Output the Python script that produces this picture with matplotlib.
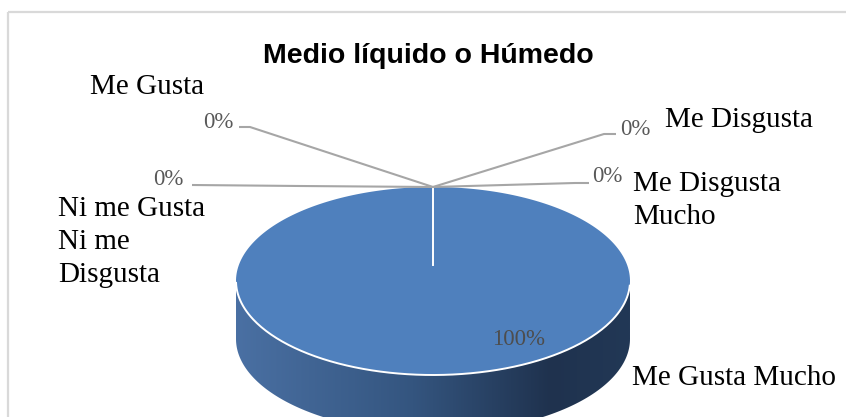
import numpy as np
import matplotlib
matplotlib.use("Agg")
import matplotlib.pyplot as plt
from matplotlib.patches import Polygon, Rectangle
from matplotlib.colors import LinearSegmentedColormap

# ---- data ----
title = "Medio líquido o Húmedo"
categories = ["Me Gusta Mucho", "Me Gusta", "Ni me Gusta\nNi me\nDisgusta",
              "Me Disgusta", "Me Disgusta\nMucho"]
values = [100, 0, 0, 0, 0]

# ---- layout (pixel coordinates) ----
W, H = 846, 417
cx, cy, rx, ry, depth = 433, 281, 197, 94, 58

fig = plt.figure(figsize=(W / 100, H / 100), dpi=100)
ax = fig.add_axes([0, 0, 1, 1])
ax.set_xlim(0, W)
ax.set_ylim(H, 0)
ax.axis("off")

# chart frame (cut off on right and bottom)
ax.add_patch(Rectangle((7.5, 12), 900, 500, fill=False, edgecolor="#D9D9D9",
                       lw=1.6, zorder=0))

total = float(sum(values))
fracs = [v / total for v in values]

# angle a measured clockwise from 12 o'clock
def pt(a, dy=0.0):
    return cx + rx * np.sin(a), cy - ry * np.cos(a) + dy

# ---- side (front wall) with gradient ----
t = np.linspace(np.pi / 2, 3 * np.pi / 2, 200)  # right -> bottom -> left
top_arc = np.array([pt(a) for a in t])
bot_arc = np.array([pt(a, depth) for a in t[::-1]])
side = np.vstack([top_arc, bot_arc])
side_poly = Polygon(side, closed=True, facecolor="none", edgecolor="none")
ax.add_patch(side_poly)
cmap = LinearSegmentedColormap.from_list(
    "side", [(0, "#4A70A3"), (0.45, "#34557F"), (0.8, "#1F324E"), (1.0, "#223856")])
grad = np.linspace(0, 1, 256).reshape(1, -1)
im = ax.imshow(grad, cmap=cmap, extent=(cx - rx, cx + rx, cy + ry + depth + 5, cy - 5),
               aspect="auto", zorder=1)
im.set_clip_path(side_poly)

# ---- top face slices ----
start = 0.0
boundaries = []
for f in fracs:
    if f > 0:
        aa = np.linspace(start, start + 2 * np.pi * f, 300)
        pts = [pt(a) for a in aa]
        if f < 1:
            pts = [(cx, cy)] + pts
        ax.add_patch(Polygon(pts, closed=True, facecolor="#4F80BD",
                             edgecolor="none", zorder=2))
        boundaries.append(start)
    start += 2 * np.pi * f

# white front rim highlight
rim = np.array([pt(a) for a in np.linspace(np.pi / 2 + 0.05, 3 * np.pi / 2 - 0.02, 200)])
ax.plot(rim[:, 0], rim[:, 1], color="white", lw=1.4, zorder=3)

# slice boundary line (white)
for b in boundaries:
    x0, y0 = pt(b)
    ax.plot([x0, cx], [y0 + 1, cy - 16], color="white", lw=1.4, zorder=3)

# ---- labels ----
serif = "Liberation Serif"
pct = [f"{f * 100:.0f}%" for f in fracs]
top_x, top_y = pt(0.0)

# leader lines for the 0% slices: (elbow, end)
leaders = {
    1: [(250, 127), (239, 127)],
    2: [(300, 186), (192, 185)],
    3: [(604, 134), (616, 134)],
    4: [(575, 183), (589, 183)],
}
for i, seg in leaders.items():
    xs = [top_x] + [p[0] for p in seg]
    ys = [top_y] + [p[1] for p in seg]
    ax.plot(xs, ys, color="#A6A6A6", lw=1.5, zorder=4, solid_capstyle="butt")

pct_pos = {0: (492, 345, "left"), 1: (233, 128, "right"), 2: (184, 185, "right"),
           3: (620, 135, "left"), 4: (592, 182, "left")}
# (x, baseline of the last line)
cat_pos = {0: (632, 385), 1: (90, 94), 2: (58, 282), 3: (665, 127), 4: (633, 224)}

for i in range(len(categories)):
    px, py, ha = pct_pos[i]
    ax.text(px, py, pct[i], fontsize=16.5, family=serif,
            color="#4D4D4D" if i == 0 else "#595959",
            ha=ha, va="baseline", zorder=5)
    lx, ly = cat_pos[i]
    ax.text(lx, ly, categories[i], fontsize=21, family=serif, color="black",
            ha="left", va="baseline", linespacing=1.35, zorder=5)

ax.text(428, 63, title, fontsize=20.5, family="Liberation Sans", weight="bold",
        ha="center", va="baseline", color="black")

fig.savefig("out.png", dpi=100)
